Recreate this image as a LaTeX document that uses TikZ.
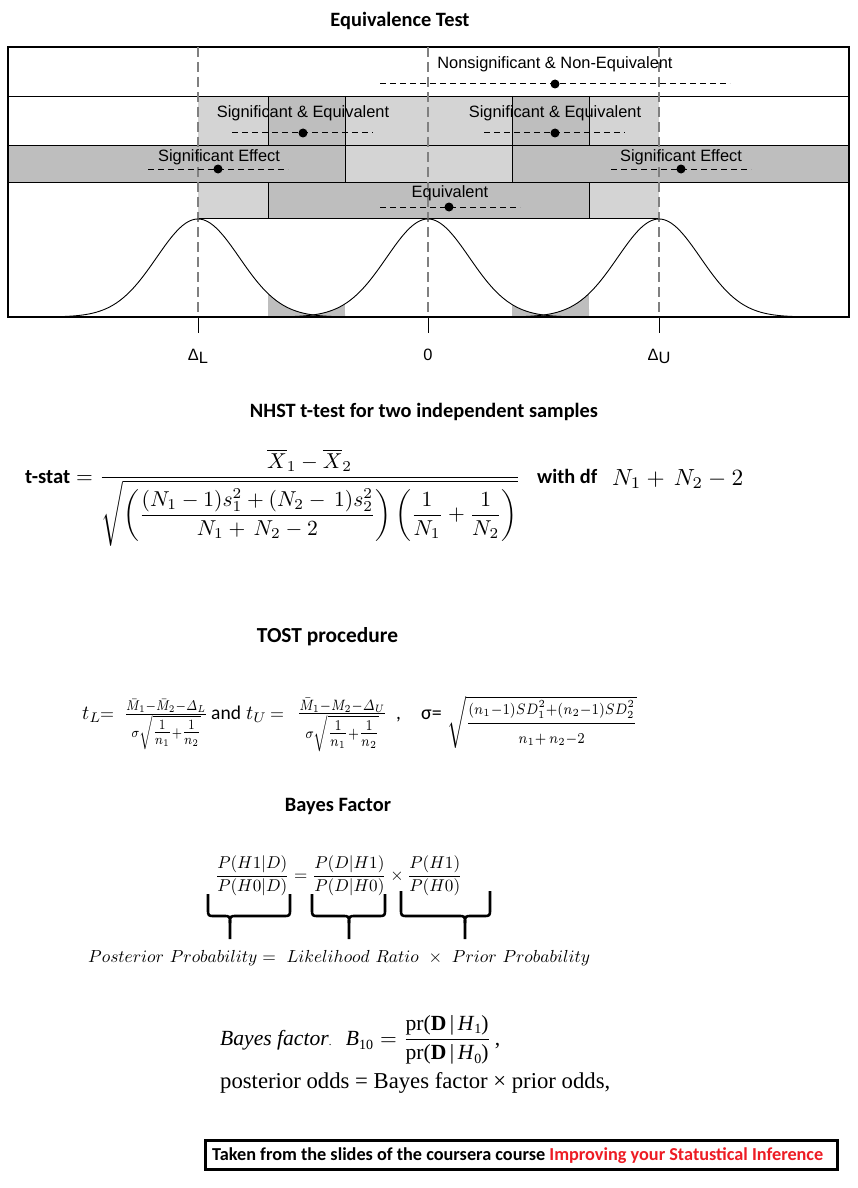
\documentclass[tikz,border=0pt]{standalone}
\usepackage{fontspec}
\usepackage{amsmath}
\usepackage{graphicx}
\newfontfamily\arialf{Liberation Sans}
\newfontfamily\calib{Carlito}
\newfontfamily\tnr{Liberation Serif}
\definecolor{lg}{HTML}{D4D4D4}
\definecolor{dg}{HTML}{BEBEBE}
\definecolor{vgray}{HTML}{808080}
\definecolor{cred}{HTML}{ED1C24}
\tikzset{
  lbl/.style={font=\arialf\fontsize{16.4}{18}\selectfont, inner sep=0pt},
  dline/.style={dash pattern=on 6pt off 4pt, line width=1pt},
  vdash/.style={draw=vgray, line width=2.2pt, dash pattern=on 10pt off 5pt},
  dotn/.style={circle, fill=black, inner sep=0pt, minimum size=9pt},
  thinline/.style={draw=black, line width=0.9pt},
  curve/.style={draw=black, line width=0.9pt},
  brc/.style={line width=2.6pt, line join=round},
  frm/.style={inner sep=0pt},
  tost/.style={inner sep=0pt, anchor=base west},
}
\begin{document}
\begin{tikzpicture}[x=1pt,y=-1pt]
\useasboundingbox (0,0) rectangle (857,1188);
\fill[white] (0,0) rectangle (857,1188);

% ---------- Equivalence test chart ----------
\node[frm, anchor=base] (t1) at (400,27) {\resizebox{139pt}{!}{\calib\bfseries Equivalence Test}};

% fills
\fill[lg] (198,96) rectangle (659,145);
\fill[dg] (268,96) rectangle (345,145);
\fill[dg] (512,96) rectangle (589,145);
\fill[dg] (8,145) rectangle (849,182);
\fill[lg] (345,145) rectangle (512,182);
\fill[lg] (198,182) rectangle (659,218);
\fill[dg] (268,182) rectangle (589,218);

% shaded tails
\fill[dg] (268,317) -- plot[domain=1.691:2.778,samples=40] ({198+41.4*\x},{317-98*exp(-\x*\x/2)})
   -- plot[domain=-2.778:-2.005,samples=30] ({428+41.4*\x},{317-98*exp(-\x*\x/2)}) -- (345,317) -- cycle;
\fill[dg] (512,317) -- plot[domain=2.029:2.79,samples=30] ({428+41.4*\x},{317-98*exp(-\x*\x/2)})
   -- plot[domain=-2.79:-1.691,samples=40] ({659+41.4*\x},{317-98*exp(-\x*\x/2)}) -- (589,317) -- cycle;

% grid lines
\draw[thinline] (8,96) -- (849,96);
\draw[thinline] (8,145) -- (849,145);
\draw[thinline] (8,182) -- (849,182);
\draw[thinline] (198,218) -- (659,218);
\draw[thinline] (268,96) -- (268,145);
\draw[thinline] (345,96) -- (345,145);
\draw[thinline] (512,96) -- (512,145);
\draw[thinline] (589,96) -- (589,145);
\draw[thinline] (345,145) -- (345,182);
\draw[thinline] (512,145) -- (512,182);
\draw[thinline] (268,182) -- (268,218);
\draw[thinline] (589,182) -- (589,218);
\draw[line width=1.3pt] (8,317) -- (8,47) -- (849,47) -- (849,317);
\draw[line width=2pt] (7,317) -- (850,317);

% ticks
\draw[thinline] (198,317) -- (198,333);
\draw[thinline] (428,317) -- (428,333);
\draw[thinline] (659,317) -- (659,333);

% vertical dashed lines
\draw[vdash] (198,47) -- (198,317);
\draw[vdash] (428,47) -- (428,317);
\draw[vdash] (659,47) -- (659,317);

% curves
\draw[curve] plot[domain=-4.59:5.56,samples=220] ({198+41.4*\x},{317-98*exp(-\x*\x/2)});
\draw[curve] plot[domain=-5.56:5.56,samples=220] ({428+41.4*\x},{317-98*exp(-\x*\x/2)});
\draw[curve] plot[domain=-5.56:4.59,samples=220] ({659+41.4*\x},{317-98*exp(-\x*\x/2)});

% labels
\node[lbl] (l1) at (555,64) {Nonsignificant \& Non-Equivalent};
\draw[dline] (380,84) -- (730,84);
\node[dotn] (d1) at (555,84) {};

\node[lbl] (l2a) at (303,113) {Significant \& Equivalent};
\draw[dline] (232,133) -- (373,133);
\node[dotn] (d2a) at (303,133) {};

\node[lbl] (l2b) at (555,113) {Significant \& Equivalent};
\draw[dline] (484,133) -- (625,133);
\node[dotn] (d2b) at (555,133) {};

\node[lbl] (l3a) at (219,157) {Significant Effect};
\draw[dline] (148,169) -- (288,169);
\node[dotn] (d3a) at (218,169) {};

\node[lbl] (l3b) at (681,157) {Significant Effect};
\draw[dline] (611,169) -- (751,169);
\node[dotn] (d3b) at (681,169) {};

\node[lbl] (l4) at (450,193) {Equivalent};
\draw[dline] (380,207) -- (520,207);
\node[dotn] (d4) at (449,207) {};

\node[lbl, anchor=base] (ax1) at (198,360) {Δ\raisebox{-3pt}{L}};
\node[lbl, anchor=base] (ax2) at (428,360) {0};
\node[lbl, anchor=base] (ax3) at (659,360) {Δ\raisebox{-3pt}{U}};

% ---------- NHST ----------
\node[frm, anchor=base] (t2) at (424,417) {\resizebox{348pt}{!}{\calib\bfseries NHST t-test for two independent samples}};
\node[frm, anchor=base west] (tstat) at (25,483) {\resizebox{45pt}{!}{\calib\bfseries t-stat}};
\node[frm, anchor=base west] (tfrac) at (76,483) {\resizebox{444pt}{!}{$=\dfrac{\overline{X}_1-\overline{X}_2}{\sqrt{\left(\dfrac{(N_1-1)s_1^2+(N_2-\,1)s_2^2}{N_1+\,N_2-2}\right)\left(\dfrac{1}{N_1}+\dfrac{1}{N_2}\right)}}$}};
\node[frm, anchor=base west] (wdf) at (537,483) {\resizebox{60pt}{!}{\calib\bfseries with df}};
\node[frm, anchor=base west] (dfv) at (612,485) {\resizebox{131pt}{!}{$N_1+\,N_2-2$}};

% ---------- TOST ----------
\node[frm, anchor=base] (t3) at (327.5,642) {\resizebox{141pt}{!}{\calib\bfseries TOST procedure}};
\node[tost] (tl) at (82,719) {\scalebox{2}{$t_L$}};
\node[tost] (eq1) at (100,719) {\scalebox{1.8}{$=$}};
\node[tost] (fr1) at (124,719) {\resizebox{84pt}{!}{\scalebox{1}[1.2]{$\frac{\bar{M}_1-\bar{M}_2-\varDelta_L}{\sigma\sqrt{\tfrac{1}{n_1}+\tfrac{1}{n_2}}}$}}};
\node[tost] (and) at (211,719) {\calib\fontsize{19.5}{22}\selectfont and};
\node[tost] (tu) at (246,719) {\scalebox{2}{$t_U$}};
\node[tost] (eq2) at (270,719) {\scalebox{1.8}{$=$}};
\node[tost] (fr2) at (297,719) {\resizebox{90pt}{!}{\scalebox{1}[1.2]{$\frac{\bar{M}_1-M_2-\varDelta_U}{\sigma\sqrt{\tfrac{1}{n_1}+\tfrac{1}{n_2}}}$}}};
\node[tost] (cm) at (396,719) {\calib\fontsize{19.5}{22}\selectfont ,};
\node[tost] (sig) at (421,719) {\calib\fontsize{20}{22}\selectfont σ=};
\node[tost] (sq) at (447,729) {\resizebox{190pt}{!}{\scalebox{1}[1.15]{$\sqrt{\dfrac{\scriptstyle(n_1-1)SD_1^2+(n_2-1)SD_2^2}{\scriptstyle n_1+\,n_2-2}}$}}};

% ---------- Bayes ----------
\node[frm, anchor=base] (t4) at (338,811) {\resizebox{106pt}{!}{\calib\bfseries Bayes Factor}};
\node[frm, anchor=west] (bfr) at (215,876) {\resizebox{247pt}{!}{$\dfrac{P(H1|D)}{P(H0|D)}=\dfrac{P(D|H1)}{P(D|H0)}\times\dfrac{P(H1)}{P(H0)}$}};

\draw[brc] (208,894) -- (208,909) .. controls (208,916) .. (215,916) -- (223,916) .. controls (230,916) .. (230,923) -- (230,939);
\draw[brc] (290,894) -- (290,909) .. controls (290,916) .. (283,916) -- (237,916) .. controls (230,916) .. (230,923);
\draw[brc] (312,894) -- (312,909) .. controls (312,916) .. (319,916) -- (342,916) .. controls (349,916) .. (349,923) -- (349,939);
\draw[brc] (385,894) -- (385,909) .. controls (385,916) .. (378,916) -- (356,916) .. controls (349,916) .. (349,923);
\draw[brc] (401,891) -- (401,909) .. controls (401,916) .. (408,916) -- (458,916) .. controls (465,916) .. (465,923) -- (465,939);
\draw[brc] (490,891) -- (490,909) .. controls (490,916) .. (483,916) -- (472,916) .. controls (465,916) .. (465,923);

\node[frm, anchor=base west] (post) at (88,962) {\resizebox{502pt}{!}{$Posterior\ Probability =\ Likelihood\ Ratio\ \times\ Prior\ Probability$}};

\node[frm, anchor=west] (bfac) at (220,1040) {\resizebox{280pt}{!}{{\tnr\itshape Bayes factor\/}{\tnr\fontsize{5}{5}\selectfont .}\ \ {\tnr\itshape B}{\tnr\fontsize{6.5}{7}\selectfont\raisebox{-2pt}{10}}\ $=\dfrac{\mbox{\tnr pr(\textbf{D}\,|\,\textit{H}\raisebox{-1.5pt}{\fontsize{6.5}{7}\selectfont 1})}}{\mbox{\tnr pr(\textbf{D}\,|\,\textit{H}\raisebox{-1.5pt}{\fontsize{6.5}{7}\selectfont 0})}}$\,{\tnr ,}}};
\node[frm, anchor=base west] (podds) at (220,1088) {\resizebox{390pt}{!}{\tnr posterior odds = Bayes factor × prior odds,}};

% ---------- credit ----------
\draw[line width=3pt] (205,1140) rectangle (837,1169);
\node[frm, anchor=base west] (credit) at (212,1160) {\resizebox{611pt}{!}{\calib\bfseries Taken from the slides of the coursera course \textcolor{cred}{Improving your Statustical Inference}}};
\end{tikzpicture}
\end{document}
